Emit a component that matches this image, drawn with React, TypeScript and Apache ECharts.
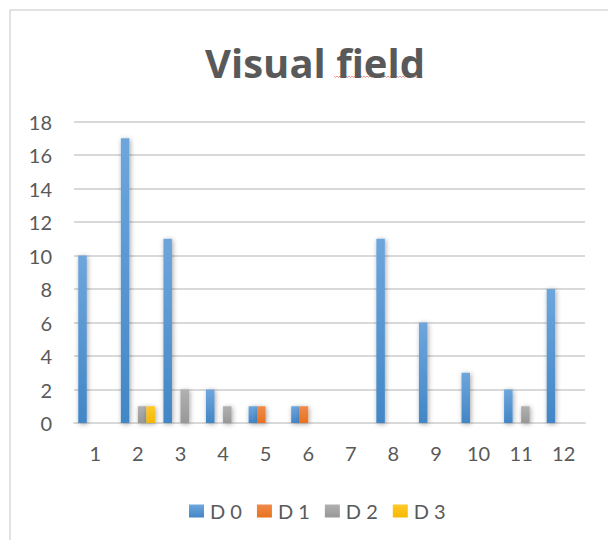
import React, { useEffect, useRef } from "react";
import * as echarts from "echarts";

const categories = ["1", "2", "3", "4", "5", "6", "7", "8", "9", "10", "11", "12"];
const seriesNames = ["D 0", "D 1", "D 2", "D 3"];
const d0 = [10, 17, 11, 2, 1, 1, 0, 11, 6, 3, 2, 8];
const d1 = [0, 0, 0, 0, 1, 1, 0, 0, 0, 0, 0, 0];
const d2 = [0, 1, 2, 1, 0, 0, 0, 0, 0, 0, 1, 0];
const d3 = [0, 1, 0, 0, 0, 0, 0, 0, 0, 0, 0, 0];
const yTicks = { min: 0, max: 18, interval: 2 };

const colorsTop = ["#6ea6dc", "#f08a4a", "#b0b0b0", "#ffca28"];
const colorsBottom = ["#4286c6", "#e8711f", "#989898", "#f5b800"];

// spell-check squiggle under "field" (decoration)
const squiggle: number[][] = [];
for (let x = 334, k = 0; x <= 423; x += 1.5, k++) squiggle.push([x, 76.5 + (k % 2 ? 0.9 : -0.4)]);

export default function App() {
  const ref = useRef<HTMLDivElement>(null);
  useEffect(() => {
    if (!ref.current) return;
    const chart = echarts.init(ref.current, null, { renderer: "svg" });
    const data = [d0, d1, d2, d3];
    const grad = (i: number) =>
      new echarts.graphic.LinearGradient(0, 0, 0, 1, [
        { offset: 0, color: colorsTop[i] },
        { offset: 1, color: colorsBottom[i] },
      ]);
    chart.setOption({
      animation: false,
      backgroundColor: "#ffffff",
      textStyle: { fontFamily: "Lato" },
      title: {
        text: "Visual field",
        left: 310,
        top: 37,
        textAlign: "center",
        textStyle: { fontFamily: "Open Sans", fontWeight: "bold", fontSize: 40, color: "#595959" },
      },
      graphic: [
        {
          type: "rect",
          shape: { x: 10, y: 10, width: 620, height: 560 },
          style: { fill: "none", stroke: "#d9d9d9", lineWidth: 1.5 },
          silent: true,
        },
        {
          type: "polyline",
          shape: { points: squiggle },
          style: { fill: "none", stroke: "#e57373", lineWidth: 0.8 },
          silent: true,
        },
      ],
      legend: {
        data: seriesNames.map((n, i) => ({ name: n, itemStyle: { color: grad(i) } })),
        left: 189,
        top: 501,
        padding: 0,
        itemWidth: 15,
        itemHeight: 13,
        itemGap: 15,
        icon: "rect",
        textStyle: { fontFamily: "Lato", fontSize: 20, color: "#595959", padding: [0, 0, 0, 1] },
      },
      grid: { left: 74, right: 23, top: 121.5, bottom: 117, containLabel: false },
      xAxis: {
        type: "category",
        data: categories,
        axisLine: { show: true, lineStyle: { color: "#d9d9d9", width: 2 } },
        axisTick: { show: false },
        axisLabel: { color: "#595959", fontSize: 20, fontFamily: "Lato", margin: 20 },
      },
      yAxis: {
        type: "value",
        min: yTicks.min,
        max: yTicks.max,
        interval: yTicks.interval,
        axisLine: { show: false },
        axisTick: { show: false },
        splitLine: { lineStyle: { color: "#d9d9d9", width: 2 } },
        axisLabel: { color: "#595959", fontSize: 20, fontFamily: "Lato", margin: 22 },
      },
      series: data.map((vals, i) => ({
        name: seriesNames[i],
        type: "bar",
        data: vals,
        barGap: "0%",
        barCategoryGap: "20%",
        itemStyle: {
          color: grad(i),
          shadowBlur: 5,
          shadowColor: "rgba(0,0,0,0.35)",
          shadowOffsetX: 1,
          shadowOffsetY: 1,
        },
      })),
    });
    return () => chart.dispose();
  }, []);
  return (
    <div
      ref={ref}
      style={{ position: "fixed", left: 0, top: 0, width: 608, height: 540 }}
    />
  );
}
